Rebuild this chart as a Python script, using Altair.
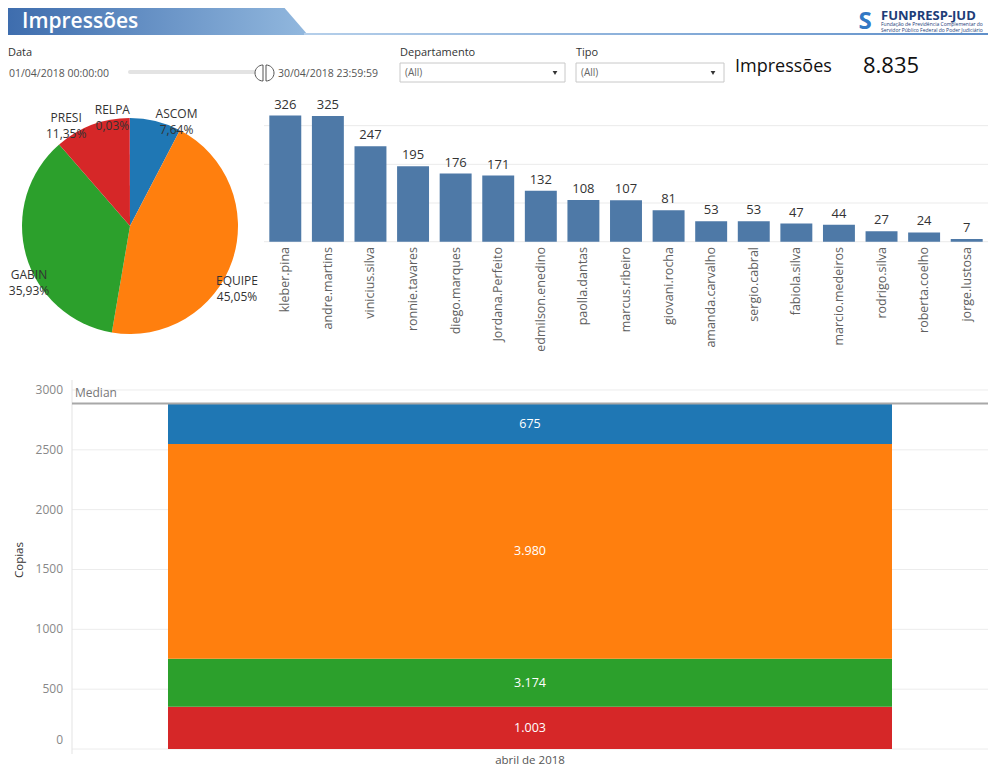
import altair as alt
import pandas as pd

FONT = "Open Sans"

# ---------------- data ----------------
depts = ["ASCOM", "EQUIPE", "GABIN", "PRESI", "RELPA"]
dept_copias = [675, 3980, 3174, 1003, 3]
dept_colors = ["#1f77b4", "#ff7f0e", "#2ca02c", "#d62728", "#9467bd"]

users = ["kleber.pina", "andre.martins", "vinicius.silva", "ronnie.tavares", "diego.marques",
         "Jordana.Perfeito", "edmilson.enedino", "paolla.dantas", "marcus.ribeiro", "giovani.rocha",
         "amanda.carvalho", "sergio.cabral", "fabiola.silva", "marcio.medeiros", "rodrigo.silva",
         "roberta.coelho", "jorge.lustosa"]
user_copias = [326, 325, 247, 195, 176, 171, 132, 108, 107, 81, 53, 53, 47, 44, 27, 24, 7]

month = "abril de 2018"
stack_depts = ["PRESI", "GABIN", "EQUIPE", "ASCOM"]      # bottom -> top
stack_heights = [353, 401, 1794, 340]                    # segment heights read on the Copias axis
median_copias = [2888]
copias_ticks = [0, 500, 1000, 1500, 2000, 2500, 3000]
user_grid = [0, 100, 200, 300]

date_from = "01/04/2018 00:00:00"
date_to = "30/04/2018 23:59:59"

# ---------------- tables ----------------
dept_df = pd.DataFrame({"dept": depts, "v": dept_copias, "ord": list(range(len(depts)))})
user_df = pd.DataFrame({"user": users, "v": user_copias})
stack_df = pd.DataFrame({
    "dept": stack_depts, "h": stack_heights, "ord": list(range(len(stack_depts))),
    "v": [dept_copias[depts.index(d)] for d in stack_depts], "month": month})
one = pd.DataFrame({"k": [0]})

cscale = alt.Scale(domain=depts, range=dept_colors)


def txt(s, x, y, size=11, color="#333", align="left", weight="normal", angle=0, font=FONT):
    return alt.Chart(one).mark_text(text=s, align=align, baseline="middle", font=font,
                                    fontSize=size, color=color, fontWeight=weight,
                                    angle=angle).encode(x=alt.value(x), y=alt.value(y))


def box(x1, x2, y1, y2, stroke="#c8c8c8"):
    return alt.Chart(one).mark_rect(fill="white", stroke=stroke, strokeWidth=1).encode(
        x=alt.value(x1), x2=alt.value(x2), y=alt.value(y1), y2=alt.value(y2))


# ---------------- header ----------------
banner_grad = alt.Gradient(gradient="linear", x1=0, x2=1, y1=0, y2=0,
                           stops=[alt.GradientStop(color="#3d6cad", offset=0),
                                  alt.GradientStop(color="#92b8de", offset=1)])
banner = alt.Chart(one).mark_point(
    shape="M-10.13,-1 L8.4,-1 L10.13,1 L-10.13,1 Z", size=900, filled=True,
    fill=banner_grad, strokeWidth=0, opacity=1).encode(x=alt.value(148), y=alt.value(12))
line_grad = alt.Gradient(gradient="linear", x1=0, x2=1, y1=0, y2=0,
                         stops=[alt.GradientStop(color="#b5cfea", offset=0),
                                alt.GradientStop(color="#5f8fc9", offset=1)])
underline = alt.Chart(one).mark_rect(fill=line_grad).encode(
    x=alt.value(296), x2=alt.value(982), y=alt.value(25), y2=alt.value(27))

header = [
    banner, underline,
    txt("Impressões", 14, 14, size=21, color="white", weight=600),
    txt("S", 857, 14, size=24, color="#3278c4", align="center", weight="bold"),
    txt("FUNPRESP-JUD", 873, 8, size=13, color="#1d3d78", weight="bold"),
    txt("Fundação de Previdência Complementar do", 873, 16, size=5, color="#1d3d78"),
    txt("Servidor Público Federal do Poder Judiciário", 873, 21.5, size=5, color="#1d3d78"),
    txt("Data", 0, 45, size=11, color="#333"),
    txt(date_from, 1, 66, size=10.5, color="#555"),
    alt.Chart(one).mark_rule(color="#e3e3e3", strokeWidth=4, strokeCap="round").encode(
        x=alt.value(122), x2=alt.value(250), y=alt.value(64)),
    alt.Chart(one).mark_point(shape="M0,-1 A1,1 0 0,0 0,1 Z", size=256, filled=True, fill="white",
                              stroke="#555", strokeWidth=1, opacity=1).encode(
        x=alt.value(255), y=alt.value(65)),
    alt.Chart(one).mark_point(shape="M0,-1 A1,1 0 0,1 0,1 Z", size=256, filled=True, fill="white",
                              stroke="#555", strokeWidth=1, opacity=1).encode(
        x=alt.value(258), y=alt.value(65)),
    txt(date_to, 270, 66, size=10.5, color="#555"),
    txt("Departamento", 392, 45, size=11, color="#333"),
    box(392, 557, 55, 74),
    txt("(All)", 397, 65, size=10, color="#666"),
    alt.Chart(one).mark_point(shape="triangle-down", size=22, filled=True, color="#333",
                              opacity=1).encode(x=alt.value(547), y=alt.value(65)),
    txt("Tipo", 568, 45, size=11, color="#333"),
    box(568, 716, 55, 74),
    txt("(All)", 573, 65, size=10, color="#666"),
    alt.Chart(one).mark_point(shape="triangle-down", size=22, filled=True, color="#333",
                              opacity=1).encode(x=alt.value(705), y=alt.value(65)),
    txt("Impressões", 727, 59, size=18, color="#111"),
    alt.Chart(dept_df).transform_aggregate(total="sum(v)").transform_calculate(
        t="replace(format(datum.total, ','), ',', '.')").mark_text(
        align="left", baseline="middle", font=FONT, fontSize=22, color="#111").encode(
        x=alt.value(855), y=alt.value(58), text="t:N"),
]

# ---------------- pie ----------------
PCX, PCY, PR = 122, 218, 108
pie = alt.Chart(dept_df).mark_arc(radius=PR).encode(
    theta=alt.Theta("v:Q", stack=True),
    order=alt.Order("ord:Q"),
    color=alt.Color("dept:N", scale=cscale, legend=None),
    x=alt.value(PCX), y=alt.value(PCY))
# labels: placed outward at each slice's mid angle, aligned away from the pie, kept inside the view
pie_lbl = alt.Chart(dept_df).transform_joinaggregate(total="sum(v)").transform_window(
    cum="sum(v)", sort=[alt.SortField("ord")], frame=[None, 0]
).transform_calculate(
    a="2 * PI * (datum.cum - datum.v / 2) / datum.total"
).transform_calculate(
    pct="replace(format(datum.v / datum.total * 100, '.2f'), '.', ',') + '%'"
).transform_calculate(
    label="datum.dept + '\\n' + datum.pct",
    w="7 * max(length(datum.dept), length(datum.pct))",
    side="datum.a > PI ? -1 : 1"
).transform_calculate(
    px=f"clamp({PCX} + 122 * sin(datum.a) + datum.side * datum.w / 2, datum.w / 2, 250 - datum.w / 2)",
    py=f"{PCY} - 130 * cos(datum.a) + 14"
).mark_text(lineBreak="\n", lineHeight=16, font=FONT, fontSize=12, color="#333", align="center",
            baseline="middle").encode(
    x=alt.X("px:Q", scale=None, axis=None), y=alt.Y("py:Q", scale=None, axis=None),
    text="label:N")
pie_layer = alt.layer(pie, pie_lbl).resolve_scale(x="independent", y="independent")

# ---------------- user bars ----------------
ux = alt.Scale(domain=users, range=[256, 980], paddingInner=0.25, paddingOuter=0.125)
uy = alt.Scale(domain=[0, 380], range=[233.7, 86.7], nice=False, zero=True)
X_U = alt.X("user:N", scale=ux, axis=None, sort=users)

ugrid = alt.Chart(pd.DataFrame({"g": user_grid})).mark_rule(color="#ebebeb", strokeWidth=1).encode(
    y=alt.Y("g:Q", scale=uy, axis=None), x=alt.value(256), x2=alt.value(980))
ubars = alt.Chart(user_df).mark_bar(color="#4e79a7").encode(
    x=X_U, y=alt.Y("v:Q", scale=uy, axis=None))
uvals = alt.Chart(user_df).mark_text(baseline="bottom", dy=-4, font=FONT, fontSize=13,
                                     color="#333").encode(
    x=X_U, y=alt.Y("v:Q", scale=uy, axis=None), text="v:Q")
unames = alt.Chart(user_df).mark_text(angle=270, align="right", baseline="middle", font=FONT,
                                      fontSize=12.5, color="#606060").encode(
    x=X_U, y=alt.value(239), text="user:N")
user_layer = alt.layer(ugrid, ubars, uvals, unames)

# ---------------- stacked month bar ----------------
sx = alt.Scale(domain=[month], range=[64, 980], paddingInner=0, paddingOuter=0.1326)
sy = alt.Scale(domain=[0, 3050], range=[741, 376], nice=False, zero=True)
X_M = alt.X("month:N", scale=sx, axis=None)

ticks_df = pd.DataFrame({"t": copias_ticks})
sgrid = alt.Chart(ticks_df).mark_rule(color="#ececec", strokeWidth=1).encode(
    y=alt.Y("t:Q", scale=sy, axis=None), x=alt.value(64), x2=alt.value(980))
# tick labels; the lowest one is lifted inside the plot as in the original
sticks = alt.Chart(ticks_df).transform_calculate(ty="max(datum.t, 75)").mark_text(
    align="right", baseline="middle", font=FONT, fontSize=12, color="#888").encode(
    y=alt.Y("ty:Q", scale=sy, axis=None), x=alt.value(55), text="t:Q")
saxis = alt.Chart(one).mark_rule(color="#e3e3e3", strokeWidth=1).encode(
    x=alt.value(64), y=alt.value(372), y2=alt.value(746))
stack_base = alt.Chart(stack_df).transform_window(
    cum="sum(h)", sort=[alt.SortField("ord")], frame=[None, 0]
).transform_calculate(
    start="datum.cum - datum.h", mid="datum.cum - datum.h / 2",
    label="replace(format(datum.v, ','), ',', '.')")
segs = stack_base.mark_bar().encode(
    x=X_M, y=alt.Y("start:Q", scale=sy, axis=None), y2="cum:Q",
    color=alt.Color("dept:N", scale=cscale, legend=None))
seg_lbl = stack_base.mark_text(font=FONT, fontSize=12.5, color="white").encode(
    x=X_M, y=alt.Y("mid:Q", scale=sy, axis=None), text="label:N")
med_df = pd.DataFrame({"m": median_copias})
med = alt.Chart(med_df).mark_rule(color="#a8a8a8", strokeWidth=2).encode(
    y=alt.Y("m:Q", scale=sy, axis=None), x=alt.value(64), x2=alt.value(980))
med_txt = alt.Chart(med_df).mark_text(text="Median", align="left", baseline="bottom", dy=-3,
                                      font=FONT, fontSize=12, color="#777").encode(
    y=alt.Y("m:Q", scale=sy, axis=None), x=alt.value(67))
mlabel = alt.Chart(pd.DataFrame({"month": [month]})).mark_text(
    font=FONT, fontSize=11.5, color="#555", baseline="middle").encode(
    x=X_M, y=alt.value(753), text="month:N")
ytitle = txt("Copias", 12, 552, size=11.5, color="#333", align="center", angle=270)
stack_layer = alt.layer(sgrid, saxis, segs, seg_lbl, med, med_txt, sticks, mlabel, ytitle)

chart = alt.layer(*header, pie_layer, user_layer, stack_layer).resolve_scale(
    x="independent", y="independent", theta="independent"
).properties(
    width=980, height=766, padding=0, autosize=alt.AutoSizeParams(type="none")
).configure_view(stroke=None)

chart.save("out.html", embed_options={"renderer": "svg", "actions": False})
